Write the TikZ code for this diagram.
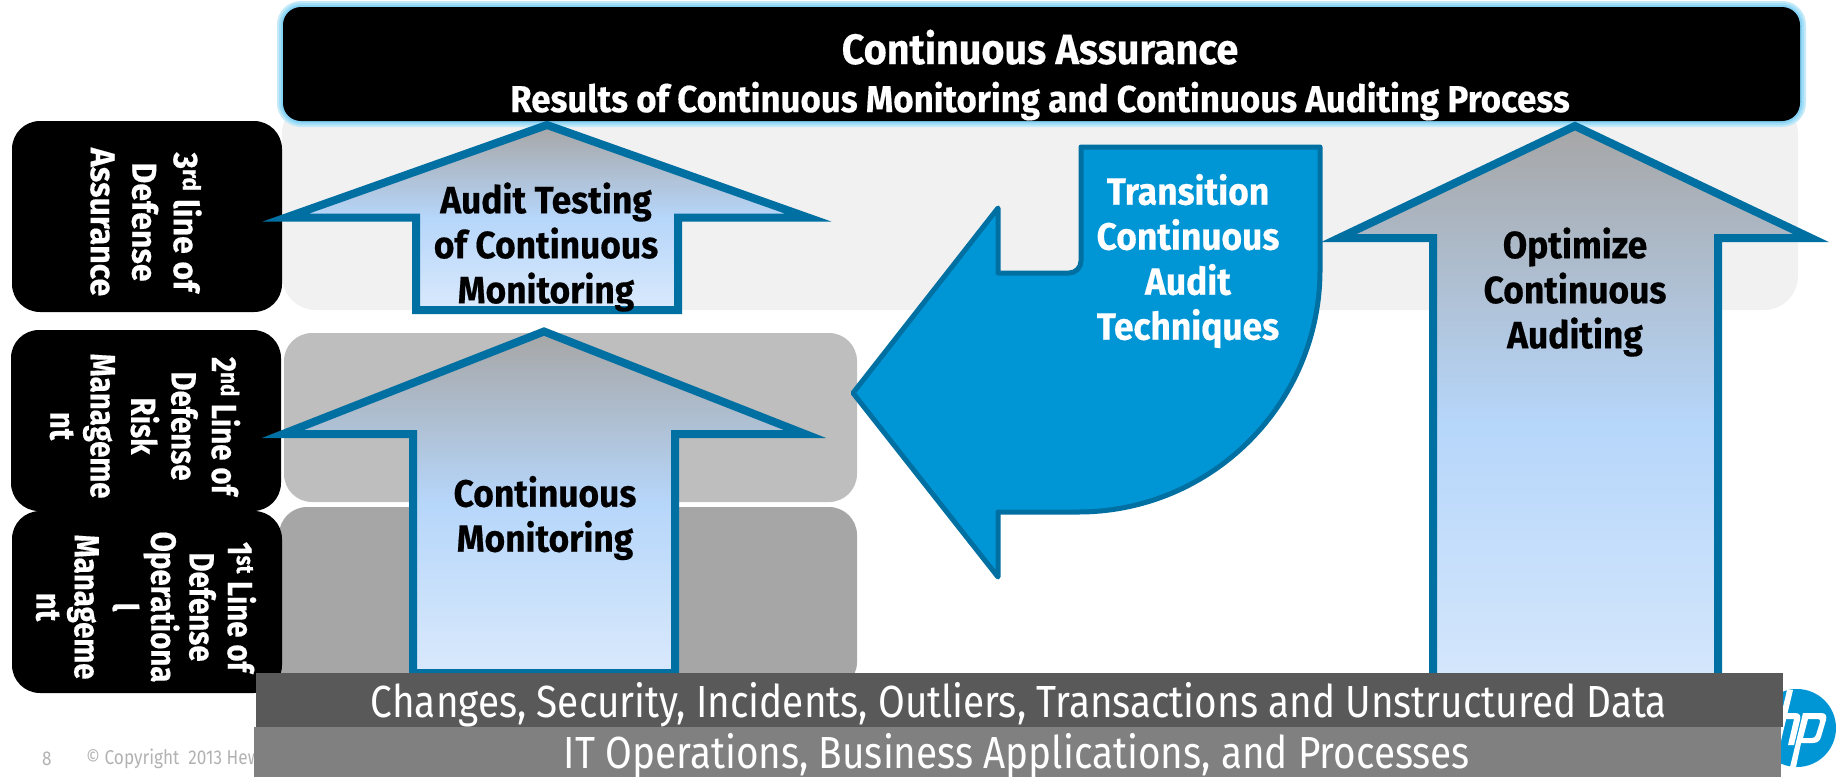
\documentclass[tikz,border=0pt]{standalone}
\usepackage{fontspec}
\newfontfamily\hpb[FakeStretch=0.93,FakeBold=0.4]{Fira Sans Bold}
\newfontfamily\hpn[FakeStretch=0.84,FakeBold=0.4]{Fira Sans Bold}
\newfontfamily\hpr[FakeStretch=0.86]{Fira Sans}
\definecolor{hpblue}{HTML}{0096D6}
\definecolor{hpedge}{HTML}{006FA2}
\definecolor{arrtop}{HTML}{A6A6A6}
\definecolor{arrmid}{HTML}{B6D6FA}
\definecolor{arrbot}{HTML}{D9E9FC}
\definecolor{glowa}{HTML}{C4EAF9}
\definecolor{glowb}{HTML}{A4DFF7}
\definecolor{glowc}{HTML}{86D2F5}
\tikzset{
  upshape/.style={draw=hpedge,line width=8pt,miter limit=10,top color=arrtop,bottom color=arrbot,middle color=arrmid},
  blk/.style={fill=black,rounded corners=28pt},
  band/.style={rounded corners=28pt},
  headtext/.style={font=\hpb\fontsize{37.5}{48}\selectfont,text=white,align=center,inner sep=0pt},
  arrowtext/.style={font=\hpb\fontsize{38}{45}\selectfont,text=black,align=center,inner sep=0pt},
  bendtext/.style={font=\hpb\fontsize{38}{45}\selectfont,text=white,align=center,inner sep=0pt},
  sidetext/.style={font=\hpb\fontsize{34.5}{41.5}\selectfont,text=white,align=center,inner sep=0pt,rotate=-90},
  sidetextm/.style={font=\hpn\fontsize{35}{40.4}\selectfont,text=white,align=center,inner sep=0pt,rotate=-90},
  sidetextb/.style={font=\hpn\fontsize{35}{38.3}\selectfont,text=white,align=center,inner sep=0pt,rotate=-90},
  bartext/.style={font=\hpr\fontsize{45}{48}\selectfont,text=white,inner sep=0pt,anchor=base},
  foot/.style={font=\hpr\fontsize{20}{22}\selectfont,text=black!30,inner sep=0pt}
}
\begin{document}
\begin{tikzpicture}[x=1pt,y=-1pt]
\useasboundingbox (0,0) rectangle (1839,777);
% background bands
\fill[band,fill=black!5.5,rounded corners=34pt] (282,100) rectangle (1798,310);
\fill[band,fill=black!25.5] (284,333) rectangle (857,502);
\fill[band,fill=black!35] (279,507) rectangle (857,690);
% footer
\node[foot,anchor=west] (pageno) at (42,759) {8};
\node[foot,anchor=west] (copy) at (86,759) {© Copyright~~2013 Hew};
% logo
\fill[hpblue] (1797,728) circle[radius=39];
\fill[white,even odd rule]
  (1803,713) -- (1821,713) .. controls (1826,713) and (1827,716) .. (1826,720) -- (1821,737) .. controls (1820,741) and (1817,743) .. (1813,743)
  -- (1801,743) -- (1796,767) -- (1790,767) -- cycle
  (1808,719) -- (1803,738) -- (1812,738) .. controls (1814,738) and (1815,737) .. (1816,735) -- (1820,722) .. controls (1820,720) and (1820,719) .. (1818,719) -- cycle;
\fill[white] (1787,690) -- (1793,690) -- (1780,745) -- (1774,745) -- cycle;
\fill[white] (1780,713) -- (1795,713) .. controls (1800,713) and (1801,716) .. (1800,720) -- (1794,745) -- (1788,745) -- (1794,719) -- (1780,719) -- cycle;
% side boxes
\fill[blk] (12,121) rectangle (282,312);
\fill[blk] (11,330) rectangle (281,511);
\fill[blk] (12,511) rectangle (282,693);
\node[sidetext] (lod3) at (146,222) {3\textsuperscript{rd} line of\\Defense\\Assurance};
\node[sidetextm] (lod2) at (145,426) {2\textsuperscript{nd} Line of\\Defense\\Risk\\Manageme\\nt};
\node[sidetextb] (lod1) at (146,607) {1\textsuperscript{st} Line of\\Defense\\Operationa\\l\\Manageme\\nt};
% top bar
\draw[line width=12pt,color=glowa,rounded corners=18pt] (283,7) rectangle (1800,121);
\draw[line width=8pt,color=glowb,rounded corners=18pt] (283,7) rectangle (1800,121);
\draw[line width=4pt,color=glowc,rounded corners=18pt] (283,7) rectangle (1800,121);
\fill[black,rounded corners=18pt] (283,7) rectangle (1800,121);
\node[headtext] (assurance) at (1040,75) {{\fontsize{42.5}{48}\selectfont Continuous Assurance}\\Results of Continuous Monitoring and Continuous Auditing Process};
% up arrows
\path[upshape] (547,125) -- (286,217.5) -- (416,217.5) -- (416,310) -- (678,310) -- (678,217.5) -- (808,217.5) -- cycle;
\path[upshape] (544,331.5) -- (283,434) -- (413,434) -- (413,673) -- (675,673) -- (675,434) -- (805,434) -- cycle;
\path[upshape] (1575,126) -- (1339,238) -- (1433,238) -- (1433,720) -- (1718,720) -- (1718,238) -- (1811,238) -- cycle;
% bent arrow
\draw[draw=hpedge,fill=hpblue,line width=5pt,line join=round]
  (853,393) -- (998,208) -- (998,273) -- (1069,273) arc[start angle=90,end angle=0,radius=12] -- (1081,147) -- (1320,147) -- (1320,270)
  arc[start angle=0,end angle=90,radius=242] -- (998,512) -- (998,577) -- cycle;
\node[arrowtext] (testing) at (546,247) {Audit Testing\\of Continuous\\Monitoring};
\node[arrowtext] (monitoring) at (545,518) {Continuous\\Monitoring};
\node[arrowtext] (optimize) at (1575,292) {Optimize\\Continuous\\Auditing};
\node[bendtext] (transition) at (1188,261) {Transition\\Continuous\\Audit\\Techniques};
% bottom bars
\fill[black!65] (256,673) rectangle (1783,727);
\fill[black!50] (254,727) rectangle (1781,777);
\node[bartext] (data) at (1019,717) {Changes, Security, Incidents, Outliers, Transactions and Unstructured Data};
\node[bartext] (itops) at (1017,768) {IT Operations, Business Applications, and Processes};
\end{tikzpicture}
\end{document}
